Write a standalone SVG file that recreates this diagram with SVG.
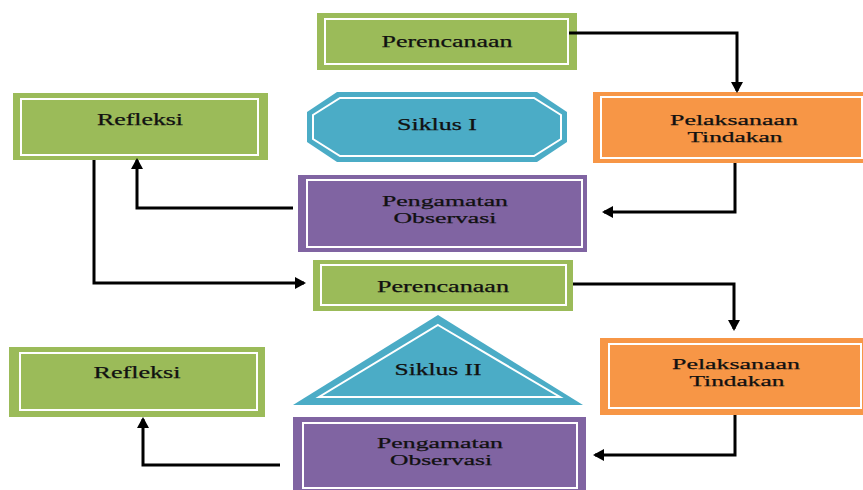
<svg xmlns="http://www.w3.org/2000/svg" width="863" height="490" viewBox="0 0 863 490">
<style>
.g{fill:#9BBB59}
.o{fill:#F79646}
.p{fill:#8064A2}
.t{fill:#4BACC6}
.in{fill:none;stroke:#fff;stroke-width:2}
.lb{font-family:"Liberation Serif","Times New Roman",serif;font-size:16px;fill:#111;text-anchor:middle;stroke:#111;stroke-width:0.25}
.l2{font-size:15px}
.c{fill:none;stroke:#000;stroke-width:3}
</style>
<defs>
<marker id="ah" markerWidth="12" markerHeight="12" refX="9" refY="6" orient="auto" markerUnits="userSpaceOnUse">
<path d="M0,0 L11,6 L0,12 z" fill="#000"/>
</marker>
</defs>
<rect width="863" height="490" fill="#fff"/>

<g id="perencanaan1">
<rect class="g" x="317" y="13" width="260" height="57"/>
<rect class="in" x="325" y="19" width="243" height="45"/>
<text class="lb" x="447" y="47" textLength="131" lengthAdjust="spacingAndGlyphs">Perencanaan</text>
</g>

<g id="refleksi1">
<rect class="g" x="13" y="93" width="255" height="67"/>
<rect class="in" x="21" y="99" width="237" height="56"/>
<text class="lb" x="140" y="125" textLength="86" lengthAdjust="spacingAndGlyphs">Refleksi</text>
</g>

<g id="siklus1">
<polygon class="t" points="337,92 537,92 567,112 567,142 537,162 337,162 307,142 307,112"/>
<polygon class="in" points="340,98 534,98 561,115 561,139 534,156 340,156 313,139 313,115"/>
<text class="lb" x="437" y="130" textLength="80" lengthAdjust="spacingAndGlyphs">Siklus I</text>
</g>

<g id="pelaksanaan1">
<rect class="o" x="593" y="92" width="280" height="71"/>
<rect class="in" x="601" y="97" width="261" height="61"/>
<text class="lb l2" x="734" y="125" textLength="128" lengthAdjust="spacingAndGlyphs">Pelaksanaan</text>
<text class="lb l2" x="735" y="142" textLength="95" lengthAdjust="spacingAndGlyphs">Tindakan</text>
</g>

<g id="pengamatan1">
<rect class="p" x="298" y="175" width="289" height="77"/>
<rect class="in" x="307" y="180" width="275" height="67"/>
<text class="lb l2" x="445" y="206" textLength="126" lengthAdjust="spacingAndGlyphs">Pengamatan</text>
<text class="lb l2" x="445" y="223" textLength="103" lengthAdjust="spacingAndGlyphs">Observasi</text>
</g>

<g id="perencanaan2">
<rect class="g" x="313" y="260" width="260" height="51"/>
<rect class="in" x="321" y="265" width="245" height="40"/>
<text class="lb" x="443" y="292" textLength="132" lengthAdjust="spacingAndGlyphs">Perencanaan</text>
</g>

<g id="siklus2">
<polygon class="t" points="438,315 583,405 293,405"/>
<polygon class="in" points="438,325 560,397 319,397"/>
<text class="lb" x="438" y="375" textLength="87" lengthAdjust="spacingAndGlyphs">Siklus II</text>
</g>

<g id="pelaksanaan2">
<rect class="o" x="600" y="338" width="273" height="77"/>
<rect class="in" x="609" y="344" width="252" height="64"/>
<text class="lb l2" x="736" y="369" textLength="128" lengthAdjust="spacingAndGlyphs">Pelaksanaan</text>
<text class="lb l2" x="737" y="386" textLength="95" lengthAdjust="spacingAndGlyphs">Tindakan</text>
</g>

<g id="refleksi2">
<rect class="g" x="9" y="347" width="256" height="70"/>
<rect class="in" x="20" y="353" width="237" height="57"/>
<text class="lb" x="137" y="378" textLength="87" lengthAdjust="spacingAndGlyphs">Refleksi</text>
</g>

<g id="pengamatan2">
<rect class="p" x="293" y="417" width="293" height="80"/>
<rect class="in" x="303" y="423" width="274" height="65"/>
<text class="lb l2" x="440" y="448" textLength="126" lengthAdjust="spacingAndGlyphs">Pengamatan</text>
<text class="lb l2" x="441" y="465" textLength="102" lengthAdjust="spacingAndGlyphs">Observasi</text>
</g>

<g id="connectors">
<path class="c" d="M569,33 H737 V91" marker-end="url(#ah)"/>
<path class="c" d="M735,163 V212 H604" marker-end="url(#ah)"/>
<path class="c" d="M293,208 H137 V160" marker-end="url(#ah)"/>
<path class="c" d="M94,160 V283 H304" marker-end="url(#ah)"/>
<path class="c" d="M573,284 H734 V329" marker-end="url(#ah)"/>
<path class="c" d="M735,415 V455 H595" marker-end="url(#ah)"/>
<path class="c" d="M280,465 H143 V419" marker-end="url(#ah)"/>
</g>
</svg>
